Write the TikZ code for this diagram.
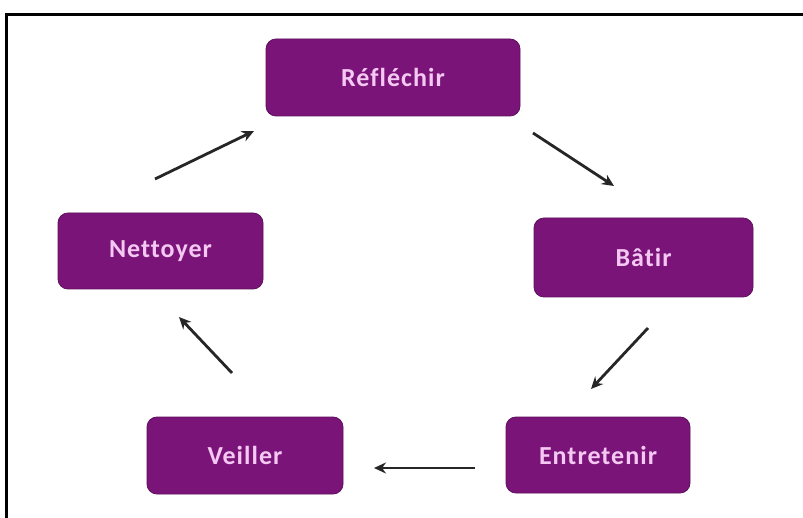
\documentclass[tikz,border=0pt]{standalone}
\usepackage{fontspec}
\setmainfont[Ligatures=NoCommon]{Carlito}
\newfontfamily\boxfont[Ligatures=NoCommon,LetterSpace=4]{Carlito}
\usetikzlibrary{arrows.meta}
\definecolor{boxfill}{HTML}{7A1478}
\definecolor{boxedge}{HTML}{5E0F5C}
\definecolor{boxtext}{HTML}{F4C8F2}
\definecolor{arrowcol}{HTML}{262626}
\begin{document}
\begin{tikzpicture}[x=1pt,y=-1pt,
  stepbox/.style={draw=boxedge,line width=0.8pt,fill=boxfill,rounded corners=10pt,
    minimum width=#1,anchor=center,inner sep=0pt,
    text=boxtext,font=\boxfont\fontsize{26}{30}\selectfont\bfseries},
  cyclearrow/.style={draw=arrowcol,line width=2.8pt,-{Stealth[length=12pt,width=11pt]}}]
\useasboundingbox (0,0) rectangle (803,518);
\fill[white] (0,0) rectangle (803,518);
\draw[line width=3pt,black] (6,518) -- (6,14.5) -- (803,14.5);
% boxes
\node[stepbox=254pt,minimum height=77pt] (refl) at (393,77.5) {Réfléchir};
\node[stepbox=219pt,minimum height=79pt] (batir) at (643.5,257.5) {Bâtir};
\node[stepbox=184pt,minimum height=76pt] (entr) at (598,455) {Entretenir};
\node[stepbox=196pt,minimum height=77pt] (veil) at (245,455.5) {Veiller};
\node[stepbox=205pt,minimum height=76pt] (nett) at (160.5,251) {Nettoyer};
% arrow endpoints
\coordinate (a1s) at (155,179);  \coordinate (a1e) at (254,131);
\coordinate (a2s) at (533,133);  \coordinate (a2e) at (614,186);
\coordinate (a3s) at (648,328);  \coordinate (a3e) at (591,389);
\coordinate (a4s) at (475,468);  \coordinate (a4e) at (374,468);
\coordinate (a5s) at (232,373);  \coordinate (a5e) at (179,317);
\draw[cyclearrow] (a1s) -- (a1e);
\draw[cyclearrow] (a2s) -- (a2e);
\draw[cyclearrow] (a3s) -- (a3e);
\draw[cyclearrow] (a4s) -- (a4e);
\draw[cyclearrow] (a5s) -- (a5e);
\end{tikzpicture}
\end{document}
